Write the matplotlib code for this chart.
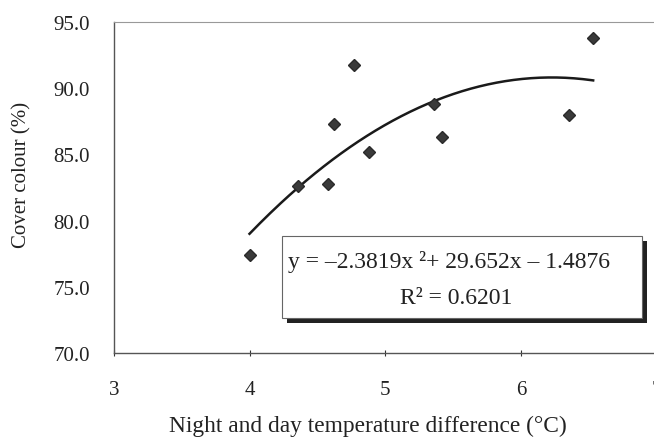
import numpy as np
import matplotlib
matplotlib.use("Agg")
import matplotlib.pyplot as plt
from matplotlib.patches import Rectangle

# ---- data ----
temp_diff = [4.00, 4.36, 4.58, 4.62, 4.77, 4.88, 5.36, 5.42, 6.35, 6.53]
cover_colour = [77.4, 82.6, 82.8, 87.3, 91.7, 85.2, 88.8, 86.3, 88.0, 93.8]
trend_coeffs = [-2.3819, 29.652, -1.4876]   # printed quadratic trendline
r_squared = 0.6201
x_ticks = [3, 4, 5, 6, 7]
y_ticks = [70.0, 75.0, 80.0, 85.0, 90.0, 95.0]

plt.rcParams['font.family'] = ['Liberation Serif', 'DejaVu Serif']

W, H = 654, 439
fig = plt.figure(figsize=(W / 100, H / 100), dpi=100, facecolor='white')
ax = fig.add_axes([113.7 / W, 1 - 354.3 / H, (657 - 113.7) / W, (354.3 - 22.7) / H])

ax.set_xlim(3, 7)
ax.set_ylim(70, 95)
ax.set_xticks(x_ticks)
ax.set_yticks(y_ticks)
ax.set_yticklabels([f"{v:.1f}" for v in y_ticks])
ax.tick_params(axis='both', labelsize=15, colors='#333333', labelcolor='#222222')
ax.tick_params(axis='y', length=0, pad=17)
ax.tick_params(axis='x', length=4, width=0.8, direction='inout', pad=17.5)

for s in ['left', 'bottom']:
    ax.spines[s].set_color('#555555')
    ax.spines[s].set_linewidth(1.0)
for s in ['top', 'right']:
    ax.spines[s].set_color('#999999')
    ax.spines[s].set_linewidth(0.8)

# trendline over the data range
xs = np.linspace(min(temp_diff), max(temp_diff), 200)
ys = np.polyval(trend_coeffs, xs)
ax.plot(xs, ys, color='#1a1a1a', lw=1.8, zorder=2)

# data points
ax.plot(temp_diff, cover_colour, linestyle='none', marker='D', markersize=6.5,
        color='#3a3a3a', markeredgecolor='#2a2a2a', zorder=3)

# labels
fig.text(368 / W, 1 - 426 / H, 'Night and day temperature difference (\u00b0C)',
         ha='center', va='center', fontsize=16.8, color='#222222')
fig.text(22 / W, 1 - 175 / H, 'Cover colour (%)', rotation=90,
         ha='center', va='center', fontsize=15, color='#222222')

# equation box with shadow
bx0, bx1, by0, by1 = 282, 642, 237, 319
off = 5
fig.patches.append(Rectangle(((bx0 + off) / W, 1 - (by1 + off) / H), (bx1 - bx0) / W,
                             (by1 - by0) / H, transform=fig.transFigure,
                             facecolor='#222222', edgecolor='none', zorder=5))
fig.patches.append(Rectangle((bx0 / W, 1 - by1 / H), (bx1 - bx0) / W, (by1 - by0) / H,
                             transform=fig.transFigure, facecolor='white',
                             edgecolor='#666666', lw=0.8, zorder=6))
a, b, c = trend_coeffs
eq = f"y = \u2013{abs(a):.4f}x \u00b2+ {b:.3f}x \u2013 {abs(c):.4f}"
fig.text(449 / W, 1 - 262 / H, eq, ha='center', va='center', fontsize=17,
         color='#222222', zorder=7)
fig.text(456 / W, 1 - 299 / H, f"R\u00b2 = {r_squared:.4f}", ha='center', va='center',
         fontsize=17, color='#222222', zorder=7)

fig.savefig('out.png', dpi=100, facecolor='white')
